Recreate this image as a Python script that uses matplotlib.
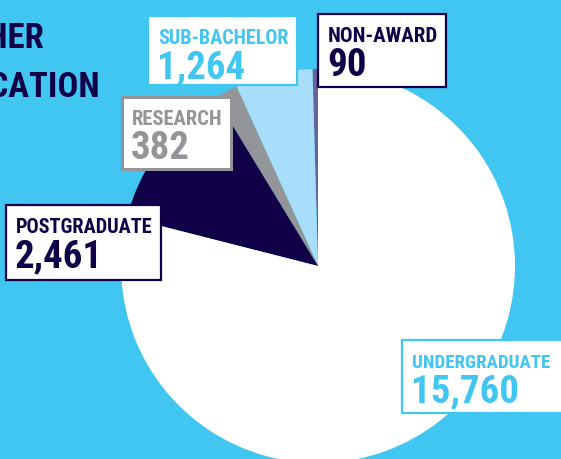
import matplotlib.pyplot as plt
from matplotlib import font_manager as fm
from matplotlib.patches import Rectangle

# data, listed counterclockwise from the top of the pie
categories = ['NON-AWARD', 'SUB-BACHELOR', 'RESEARCH', 'POSTGRADUATE', 'UNDERGRADUATE']
students = [90, 1264, 382, 2461, 15760]
title_lines = ['HIGHER', 'EDUCATION']

bg = '#41C5F1'
navy = '#0F0048'
slice_colors = ['#67649A', '#A8DEF9', '#939598', navy, 'white']
text_colors = [navy, bg, '#939598', navy, bg]
box_edges = [navy, bg, '#939598', navy, bg]
box_lw = [1.6, 1.6, 2.2, 1.6, 1.6]
# label boxes in pixels (left, top, right, bottom), measured from top-left
boxes = [(318, 14, 446, 87), (148, 16, 297, 85), (122, 97, 231, 169),
         (6, 205, 161, 280), (402, 340, 575, 413)]


def pick_font():
    # the original uses a narrow bold face; take the narrowest one we have
    for fam in ['Roboto Condensed', 'Liberation Sans Narrow', 'Open Sans Condensed']:
        try:
            fm.findfont(fm.FontProperties(family=fam, weight='bold'),
                        fallback_to_default=False)
            return dict(family=fam)
        except ValueError:
            pass
    path = fm.findfont(fm.FontProperties(family='DejaVu Sans', stretch='condensed',
                                         weight='bold'))
    if 'Condensed' in path:
        return dict(family='DejaVu Sans', stretch='condensed')
    return dict(family='Roboto')


font = pick_font()

W, H = 561, 459
fig = plt.figure(figsize=(W / 100, H / 100), dpi=100)
fig.patch.set_facecolor(bg)
ax = fig.add_axes([0, 0, 1, 1])
ax.set_facecolor(bg)

ax.pie(students, colors=slice_colors, startangle=90, counterclock=True,
       center=(318, H - 266), radius=197, wedgeprops=dict(linewidth=0))

ax.set_xlim(0, W)
ax.set_ylim(0, H)
ax.set_aspect('auto')
ax.axis('off')

renderer = fig.canvas.get_renderer()


def fit(txt, max_w):
    w = txt.get_window_extent(renderer).width
    if w > max_w:
        txt.set_fontsize(txt.get_fontsize() * max_w / w)


# title, cut off at the left edge like the original
ax.text(44, H - 48, title_lines[0], ha='right', va='baseline', color=navy,
        fontsize=25, fontweight='bold', **font)
ax.text(100, H - 97, title_lines[1], ha='right', va='baseline', color=navy,
        fontsize=25, fontweight='bold', **font)

for cat, val, tc, ec, lw, (l, t, r, b) in zip(categories, students, text_colors,
                                             box_edges, box_lw, boxes):
    ax.add_patch(Rectangle((l, H - b), r - l, b - t, facecolor='white',
                           edgecolor=ec, linewidth=lw, zorder=3))
    room = min(r, W - 3) - l - 18
    t1 = ax.text(l + 10, H - (t + 28), cat, ha='left', va='baseline', color=tc,
                 fontsize=17, fontweight='bold', zorder=4, **font)
    t2 = ax.text(l + 9, H - (t + 62), f'{val:,}', ha='left', va='baseline',
                 color=tc, fontsize=28, fontweight='bold', zorder=4, **font)
    fit(t1, room)
    fit(t2, room)

fig.savefig('out.png', dpi=100, facecolor=bg)
